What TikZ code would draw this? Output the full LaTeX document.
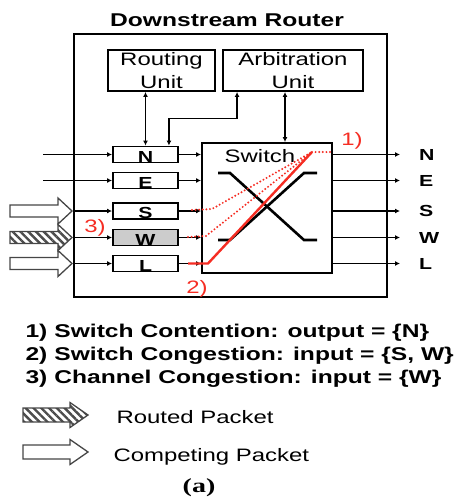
\documentclass[tikz,border=0pt]{standalone}
\usepackage{fontspec}
\setmainfont{Liberation Sans}[FakeStretch=1.33]
\newfontfamily\figcapfont{Liberation Serif}[FakeStretch=1.4]
\usetikzlibrary{arrows.meta,patterns.meta}
\definecolor{congred}{RGB}{245,45,35}
\definecolor{pktgray}{RGB}{70,70,70}
\tikzset{
  ln/.style={line width=1.6pt},
  tip/.style={-{Latex[length=5pt,width=5pt]}},
  dtip/.style={{Latex[length=5pt,width=5pt]}-{Latex[length=5pt,width=5pt]}},
  big/.style={font=\fontsize{18}{23}\selectfont},
  bigbold/.style={font=\fontsize{18.5}{23}\selectfont\bfseries},
  capt/.style={font=\figcapfont\bfseries\fontsize{20}{20}\selectfont},
  box/.style={draw, line width=1.9pt, inner sep=0pt},
  unit/.style={box, minimum height=41pt, align=center},
  buf/.style={box, minimum width=65pt, minimum height=16pt, text height=15pt, text depth=0pt,
    font=\fontsize{16}{16}\selectfont\bfseries},
  outlbl/.style={anchor=west, inner sep=0pt, font=\fontsize{16}{16}\selectfont\bfseries},
  redtxt/.style={anchor=base, text=congred},
  hotpath/.style={congred, line width=2.4pt},
  dotpath/.style={congred, line width=2.2pt, dash pattern=on 0pt off 3.6pt, line cap=round},
  pkt/.style={pktgray, line width=1.3pt, fill=white},
  hatched/.style={pktgray, line width=1.3pt, pattern={Lines[angle=-45,distance=5.5pt,line width=2.4pt]}, pattern color=black!70}
}
\begin{document}
\begin{tikzpicture}[x=1pt, y=-1pt, big]
	\useasboundingbox (0,0) rectangle (457,499);

	% router frame and units
	\node[bigbold, anchor=base] (ttl) at (227,26) {Downstream Router};
	\node[box, minimum width=313pt, minimum height=263pt] (rt) at (230.5,165.5) {};
	\node[unit, minimum width=107pt] (ru) at (161.5,70.5) {Routing\\Unit};
	\node[unit, minimum width=140pt] (au) at (293,70.5) {Arbitration\\Unit};
	\node[box, minimum size=130pt] (sw) at (267,208) {};
	\node[anchor=base] (swt) at (260,162) {Switch};

	% crossbar
	\draw[line width=2.6pt] (218,173) -- (230,173) -- (304,240) -- (317,240);
	\draw[line width=2.6pt] (218,240) -- (230,240) -- (304,173) -- (317,173);

	% ports
	\foreach \n/\y/\f/\s in {N/154.5/white/43, E/180.5/white/43, S/211/white/74, W/237.5/gray!40/74, L/263.5/white/74}{
		\node[buf, fill=\f] (b\n) at (145.5,\y) {\n};
		\coordinate (s\n) at (\s,\y);
		\coordinate (e\n) at (400,\y);
		\node[outlbl] (o\n) at (419,\y) {\n};
		\draw[ln, tip] (s\n) -- (b\n.west);
		\draw[ln, tip] (b\n.east) -- (b\n.east -| sw.west);
		\draw[ln, tip] (b\n.east -| sw.east) -- (e\n);
	}

	% control links
	\draw[ln, dtip] (bN.north |- ru.south) -- (bN.north);
	\draw[ln, dtip] ([xshift=-10pt]bN.north east) -- ++(0,-27) -| ([xshift=15pt]au.south west);
	\coordinate (ag) at ([xshift=-8pt]au.south);
	\draw[ln, dtip] (ag) -- (ag |- sw.north);

	% congestion paths
	\coordinate (hot) at (312,152);
	\draw[hotpath] (188,263.5) -- (208,263.5) -- (hot);
	\draw[dotpath] (hot) -- (hot -| sw.east);
	\draw[dotpath] (192,210) -- (212,209) -- (hot);
	\draw[dotpath] (188,237) -- (206,236) -- (hot);
	\node[redtxt] (l1) at (352,145) {1)};
	\node[redtxt] (l2) at (197,293) {2)};
	\node[redtxt] (l3) at (95,232) {3)};

	% incoming packets
	\foreach \y in {211,263.5}
		\draw[pkt] (10,\y-6) -- (58,\y-6) -- (58,\y-13) -- (72,\y) -- (58,\y+13) -- (58,\y+6) -- (10,\y+6) -- cycle;
	\draw[hatched] (10,231.5) -- (58,231.5) -- (58,224.5) -- (72,237.5) -- (58,250.5) -- (58,243.5) -- (10,243.5) -- cycle;

	% legend
	\node[bigbold, anchor=base west] (k1) at (22,337) {1)\hspace{7pt}Switch Contention: output = \{N\}};
	\node[bigbold, anchor=base west] (k2) at (22,360) {2)\hspace{7pt}Switch Congestion: input = \{S, W\}};
	\node[bigbold, anchor=base west] (k3) at (22,383) {3)\hspace{7pt}Channel Congestion: input = \{W\}};
	\draw[hatched] (23,408) -- (70,408) -- (70,402.5) -- (88,415) -- (70,427.5) -- (70,422) -- (23,422) -- cycle;
	\draw[pkt] (23,445) -- (70,445) -- (70,439.5) -- (88,452) -- (70,464.5) -- (70,459) -- (23,459) -- cycle;
	\node[anchor=base west] (k4) at (113,423) {Routed Packet};
	\node[anchor=base west] (k5) at (110,461) {Competing Packet};
	\node[capt, anchor=base] (cap) at (199,492) {(a)};

\end{tikzpicture}
\end{document}
